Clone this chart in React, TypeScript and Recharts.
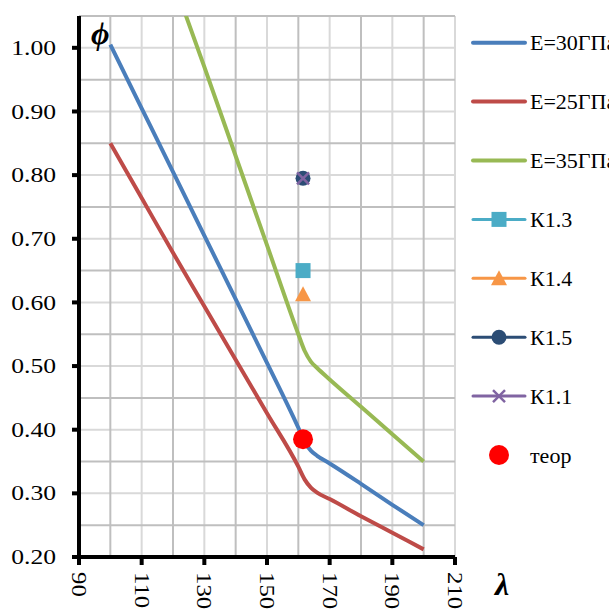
import { ComposedChart, Line, Scatter, XAxis, YAxis, CartesianGrid } from "recharts";

// E = 30 GPa
const lambda30 = [100, 110, 120, 130, 140, 150, 160, 162, 164, 166, 170, 180, 190, 200];
const phi30 = [1.005, 0.905, 0.805, 0.705, 0.605, 0.505, 0.403, 0.381, 0.367, 0.359, 0.347, 0.315, 0.282, 0.25];

// E = 25 GPa
const lambda25 = [100, 110, 120, 130, 140, 150, 160, 162, 164, 166, 170, 180, 190, 200];
const phi25 = [0.85, 0.764, 0.678, 0.594, 0.51, 0.426, 0.342, 0.322, 0.309, 0.301, 0.291, 0.264, 0.238, 0.212];

// E = 35 GPa (runs above the top of the axis, clipped)
const lambda35 = [120, 130, 140, 150, 160, 162, 164, 166, 170, 180, 190, 200];
const phi35 = [1.107, 0.97, 0.83, 0.69, 0.55, 0.524, 0.507, 0.497, 0.479, 0.436, 0.393, 0.35];

// test points
const k13 = [{ x: 161.5, y: 0.65 }];
const k14 = [{ x: 161.5, y: 0.613 }];
const k15 = [{ x: 161.5, y: 0.795 }];
const k11 = [{ x: 161.5, y: 0.795 }];
const teor = [{ x: 161.5, y: 0.385 }];

const xTicks = [90, 110, 130, 150, 170, 190, 210];
const yTicks = [0.2, 0.3, 0.4, 0.5, 0.6, 0.7, 0.8, 0.9, 1.0];
const gridDarkX = [100, 120, 140, 160, 180, 200];
const gridLightX = [110, 130, 150, 170, 190, 210];
const gridDarkY = [0.25, 0.35, 0.45, 0.55, 0.65, 0.75, 0.85, 0.95, 1.05];
const gridLightY = [0.3, 0.4, 0.5, 0.6, 0.7, 0.8, 0.9, 1.0];

const FONT = "'Liberation Serif', 'Times New Roman', serif";

const toPoints = (xs: number[], ys: number[]) => xs.map((x, i) => ({ x, y: ys[i] }));

const legendItems = [
  { name: "E=30ГПа", color: "#4A7EBB", mark: "none", width: 4 },
  { name: "E=25ГПа", color: "#BE4B48", mark: "none", width: 4 },
  { name: "E=35ГПа", color: "#98B954", mark: "none", width: 4 },
  { name: "К1.3", color: "#4BACC6", mark: "square", width: 3 },
  { name: "К1.4", color: "#F79646", mark: "triangle", width: 3 },
  { name: "К1.5", color: "#2C4D75", mark: "circle", width: 3 },
  { name: "К1.1", color: "#8064A2", mark: "cross", width: 3 },
  { name: "теор", color: "#FF0000", mark: "dot", width: 0 },
];

function Marker({ kind, cx, cy, color }: { kind: string; cx: number; cy: number; color: string }) {
  if (kind === "square") return <rect x={cx - 7.5} y={cy - 7.5} width={15} height={15} fill={color} />;
  if (kind === "triangle")
    return <polygon points={`${cx},${cy - 8} ${cx + 8},${cy + 7} ${cx - 8},${cy + 7}`} fill={color} />;
  if (kind === "circle") return <circle cx={cx} cy={cy} r={7.5} fill={color} />;
  if (kind === "dot") return <circle cx={cx} cy={cy} r={10} fill={color} />;
  if (kind === "cross")
    return (
      <g stroke={color} strokeWidth={2.5}>
        <line x1={cx - 6} y1={cy - 6} x2={cx + 6} y2={cy + 6} />
        <line x1={cx - 6} y1={cy + 6} x2={cx + 6} y2={cy - 6} />
      </g>
    );
  return null;
}

// axis labels are drawn a bit wider than plain Times
const XTick = (props: any) => {
  const { x, y, payload } = props;
  return (
    <g transform={`translate(${x} ${y}) rotate(90) scale(1.18 1)`}>
      <text x={0} y={0} textAnchor="start" dy="0.34em" fontFamily={FONT} fontSize={21} fill="#000">
        {payload.value}
      </text>
    </g>
  );
};

const YTick = (props: any) => {
  const { x, y, payload } = props;
  return (
    <g transform={`translate(${x} ${y}) scale(1.22 1)`}>
      <text x={0} y={0} textAnchor="end" dy="0.34em" fontFamily={FONT} fontSize={21} fill="#000">
        {payload.value.toFixed(2)}
      </text>
    </g>
  );
};

export default function App() {
  return (
    <div style={{ position: "absolute", left: 0, top: 0, width: 609, height: 612, overflow: "hidden", background: "#fff" }}>
      <ComposedChart width={609} height={612} margin={{ top: 16, right: 154, bottom: 0, left: 0 }}>
        <CartesianGrid stroke="#D9D9D9" strokeWidth={2} verticalValues={gridLightX} horizontalValues={gridLightY} />
        <CartesianGrid stroke="#BFBFBF" strokeWidth={2} verticalValues={gridDarkX} horizontalValues={gridDarkY} />
        <XAxis type="number" dataKey="x" domain={[90, 210]} ticks={xTicks} height={55}
          axisLine={{ stroke: "#000", strokeWidth: 4 }} tickLine={{ stroke: "#000", strokeWidth: 4 }}
          tickSize={8} tickMargin={7} tick={<XTick />} interval={0} />
        <YAxis type="number" dataKey="y" domain={[0.2, 1.05]} ticks={yTicks} width={79} allowDataOverflow
          axisLine={{ stroke: "#000", strokeWidth: 4 }} tickLine={{ stroke: "#000", strokeWidth: 4 }}
          tickSize={7} tickMargin={16} interval={0} tick={<YTick />} />
        <Line data={toPoints(lambda30, phi30)} dataKey="y" type="monotone" stroke="#4A7EBB" strokeWidth={4}
          dot={false} isAnimationActive={false} />
        <Line data={toPoints(lambda25, phi25)} dataKey="y" type="monotone" stroke="#BE4B48" strokeWidth={4}
          dot={false} isAnimationActive={false} />
        <Line data={toPoints(lambda35, phi35)} dataKey="y" type="monotone" stroke="#98B954" strokeWidth={4}
          dot={false} isAnimationActive={false} />
        <Scatter data={k13} dataKey="y" isAnimationActive={false}
          shape={(p: any) => <Marker kind="square" cx={p.cx} cy={p.cy} color="#4BACC6" />} />
        <Scatter data={k14} dataKey="y" isAnimationActive={false}
          shape={(p: any) => <Marker kind="triangle" cx={p.cx} cy={p.cy} color="#F79646" />} />
        <Scatter data={k15} dataKey="y" isAnimationActive={false}
          shape={(p: any) => <Marker kind="circle" cx={p.cx} cy={p.cy} color="#2C4D75" />} />
        <Scatter data={k11} dataKey="y" isAnimationActive={false}
          shape={(p: any) => <Marker kind="cross" cx={p.cx} cy={p.cy} color="#8064A2" />} />
        <Scatter data={teor} dataKey="y" isAnimationActive={false}
          shape={(p: any) => <Marker kind="dot" cx={p.cx} cy={p.cy} color="#FF0000" />} />
      </ComposedChart>

      {/* axis symbols + legend */}
      <svg width={609} height={612} style={{ position: "absolute", left: 0, top: 0, pointerEvents: "none" }}>
        <text x={91} y={44} fontFamily={FONT} fontSize={32} fontWeight="bold" fontStyle="italic">ϕ</text>
        <text x={495} y={595} fontFamily={FONT} fontSize={32} fontWeight="bold" fontStyle="italic">λ</text>
        {legendItems.map((item, i) => {
          const cy = 42.7 + i * 58.9;
          return (
            <g key={item.name}>
              {item.width > 0 && (
                <line x1={473} y1={cy} x2={525} y2={cy} stroke={item.color} strokeWidth={item.width} strokeLinecap="round" />
              )}
              <Marker kind={item.mark} cx={499} cy={cy} color={item.color} />
              <text x={530} y={cy} dy="0.35em" fontFamily={FONT} fontSize={22} fill="#000">{item.name}</text>
            </g>
          );
        })}
      </svg>
    </div>
  );
}
